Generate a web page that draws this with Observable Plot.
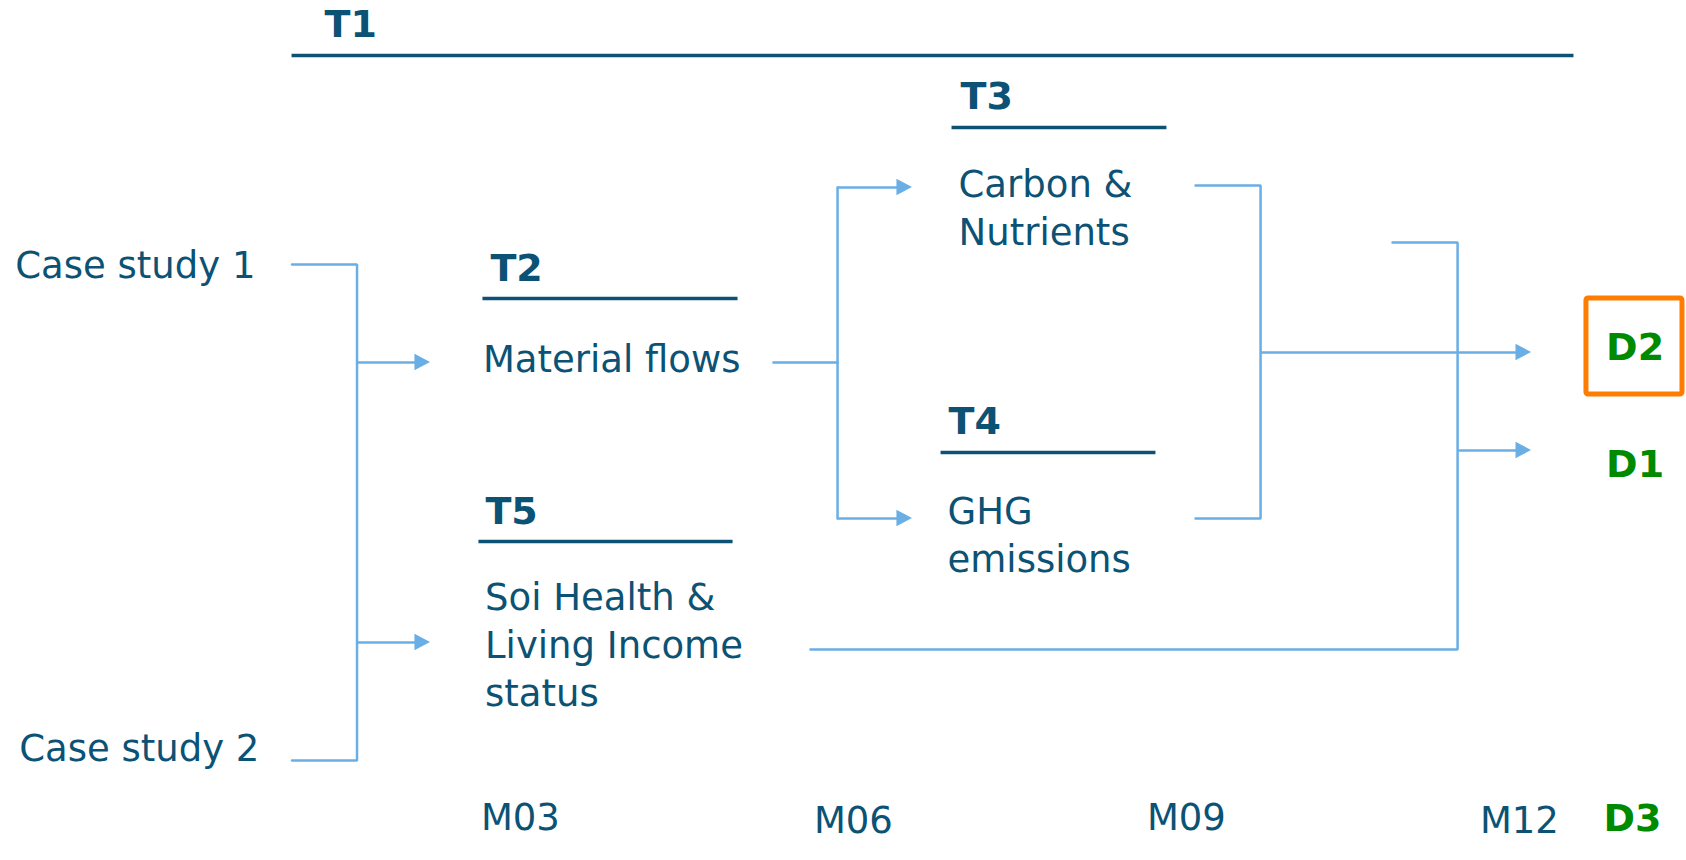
<!DOCTYPE html>
<html>
<head>
<meta charset="utf-8">
<script src="https://cdn.jsdelivr.net/npm/d3@7"></script>
<script src="https://cdn.jsdelivr.net/npm/@observablehq/plot@0.6"></script>
<style>
  html, body { margin: 0; padding: 0; background: #ffffff; }
  #chart svg { display: block; }
</style>
</head>
<body>
<div id="chart"></div>
<script>
// ---------- content ----------
const tasks = ["T1", "T2", "T3", "T4", "T5"];
const taskDescriptions = ["", "Material flows", "Carbon &\nNutrients", "GHG\nemissions", "Soi Health &\nLiving Income\nstatus"];
const caseStudies = ["Case study 1", "Case study 2"];
const milestones = ["M03", "M06", "M09", "M12"];
const milestoneMonths = [3, 6, 9, 12];
const deliverables = ["D2", "D1", "D3"];

// ---------- layout (x in project months, y in layout rows) ----------
const taskLineStart = [1.294, 3.014, 7.240, 7.141, 2.978];
const taskLineEnd   = [12.843, 5.312, 9.176, 9.077, 5.267];
const taskLineRow   = [5.5, 29.8, 12.7, 45.2, 54.1];
const taskLabelX    = [1.591, 3.086, 7.321, 7.213, 3.041];
const taskLabelRow  = [3.6, 28.0, 10.8, 43.3, 52.3];
const descX         = [0, 3.018, 7.303, 7.204, 3.037];
const descLastRow   = [0, 37.1, 24.4, 57.1, 70.5];
const caseX         = [-1.195, -1.160];
const caseRow       = [27.7, 76.0];
const milestoneRow  = [82.9, 83.2, 82.9, 83.2];
const deliverableX  = [13.137, 13.137, 13.114];
const deliverableRow = [35.9, 47.6, 83.0];
const highlightBox  = [12.960, 13.825, 29.8, 39.4]; // x1, x2, y1, y2

// connector polylines: [month, row] points
const connectorPaths = [
  [[1.298, 26.4], [1.884, 26.4], [1.884, 76.0], [1.298, 76.0]],
  [[5.636, 36.2], [6.213, 36.2]],
  [[6.213, 18.7], [6.213, 51.8]],
  [[9.438, 18.5], [10.024, 18.5], [10.024, 51.8], [9.438, 51.8]],
  [[11.213, 24.2], [11.799, 24.2], [11.799, 64.9], [5.969, 64.9]]
];
// arrows: [from month, to month (tip), row]
const arrows = [
  [1.884, 2.546, 36.2],
  [1.884, 2.546, 64.2],
  [6.213, 6.888, 18.7],
  [6.213, 6.888, 51.8],
  [10.024, 12.465, 35.2],
  [11.799, 12.465, 45.0]
];

// ---------- style ----------
const TEAL = "#0b5274";
const BLUE = "#6aaee6";
const GREEN = "#008a00";
const ORANGE = "#ff7c00";
const FONT = "DejaVu Sans";
const FS = 37;
const FSB = 38;
const headLen = 0.14;    // months
const headHalf = 0.82;   // rows

// ---------- derived tables ----------
const connectorPoints = connectorPaths.flatMap((pts, id) => pts.map(([x, y]) => ({id, x, y})));
const arrowShafts = arrows.map(([x1, x2, y]) => ({x1, x2: x2 - headLen * 0.5, y}));
const arrowHeads = arrows.flatMap(([x1, x2, y], id) => [
  {id, x: x2 - headLen, y1: y - headHalf, y2: y + headHalf},
  {id, x: x2, y1: y, y2: y}
]);
const taskTable = tasks.map((t, i) => ({
  t, lx: taskLabelX[i], ly: taskLabelRow[i],
  x1: taskLineStart[i], x2: taskLineEnd[i], row: taskLineRow[i],
  desc: taskDescriptions[i], dx: descX[i], dy: descLastRow[i]
}));
const descTable = taskTable.filter(d => d.desc !== "");

const chart = Plot.plot({
  width: 1686,
  height: 860,
  margin: 0,
  x: {domain: [-147.4 / 111, (1686 - 147.4) / 111], range: [0, 1686], axis: null},
  y: {domain: [0, 86], range: [0, 860], axis: null},
  style: {background: "#ffffff", fontFamily: FONT},
  marks: [
    // connectors
    Plot.line(connectorPoints, {x: "x", y: "y", z: "id", stroke: BLUE, strokeWidth: 2.5, strokeLinejoin: "miter"}),
    Plot.link(arrowShafts, {x1: "x1", x2: "x2", y1: "y", y2: "y", stroke: BLUE, strokeWidth: 2.5}),
    Plot.areaY(arrowHeads, {x: "x", y1: "y1", y2: "y2", z: "id", fill: BLUE, curve: "linear"}),
    // task underlines
    Plot.link(taskTable, {x1: "x1", x2: "x2", y1: "row", y2: "row", stroke: TEAL, strokeWidth: 3.3}),
    // task names
    Plot.text(taskTable, {x: "lx", y: "ly", text: "t", textAnchor: "start", lineAnchor: "bottom",
      fill: TEAL, fontSize: FSB, fontWeight: "bold", fontFamily: FONT}),
    // task descriptions
    Plot.text(descTable, {x: "dx", y: "dy", text: "desc", textAnchor: "start", lineAnchor: "bottom",
      lineHeight: 48 / 37, fill: TEAL, fontSize: FS, fontFamily: FONT}),
    // case studies
    Plot.text(caseStudies, {x: (d, i) => caseX[i], y: (d, i) => caseRow[i], text: d => d,
      textAnchor: "start", lineAnchor: "bottom", fill: TEAL, fontSize: FS, fontFamily: FONT}),
    // milestones
    Plot.text(milestones, {x: (d, i) => milestoneMonths[i], y: (d, i) => milestoneRow[i], text: d => d,
      textAnchor: "start", lineAnchor: "bottom", fill: TEAL, fontSize: FS, fontFamily: FONT}),
    // highlight box
    Plot.rect([highlightBox], {x1: d => d[0], x2: d => d[1], y1: d => d[2], y2: d => d[3],
      fill: "none", stroke: ORANGE, strokeWidth: 5, rx: 2}),
    // deliverables
    Plot.text(deliverables, {x: (d, i) => deliverableX[i], y: (d, i) => deliverableRow[i], text: d => d,
      textAnchor: "start", lineAnchor: "bottom", fill: GREEN, fontSize: FSB, fontWeight: "bold", fontFamily: FONT})
  ]
});
document.getElementById("chart").appendChild(chart);
</script>
</body>
</html>
